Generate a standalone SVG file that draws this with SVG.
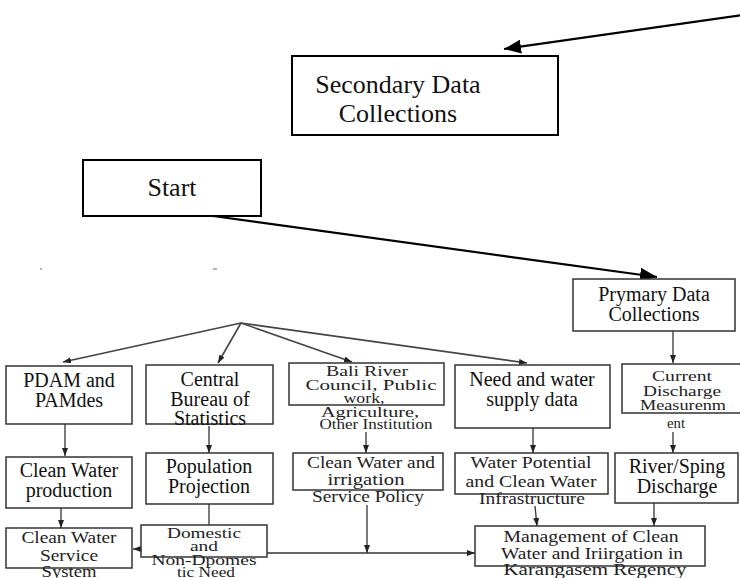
<svg xmlns="http://www.w3.org/2000/svg" width="740" height="578" viewBox="0 0 740 578">
<style>
.box{fill:#fff;stroke:#333;stroke-width:1.5}
.bigbox{fill:#fff;stroke:#000;stroke-width:2}
text{font-family:'Liberation Serif','DejaVu Serif',serif}
.t{fill:#111;text-anchor:middle;font-size:20px}
.tb{fill:#111;text-anchor:middle;font-size:26px}
.w{fill:#222;text-anchor:middle}
.c{stroke:#333;stroke-width:1.3;fill:none}
.cf{stroke:#444;stroke-width:1.6;fill:none}
.cb{stroke:#000;stroke-width:2.2;fill:none}
.mark{stroke:#999;stroke-width:1.5}
</style>
<defs>
<marker id="big" markerUnits="userSpaceOnUse" markerWidth="18" markerHeight="14" refX="17" refY="7" orient="auto">
<path d="M0,0 L17,7 L0,14 z" fill="#000"/>
</marker>
<marker id="sm" markerUnits="userSpaceOnUse" markerWidth="8" markerHeight="6" refX="8" refY="3" orient="auto">
<path d="M0,0 L8,3 L0,6 z" fill="#222"/>
</marker>
</defs>
<line class="mark" x1="40" y1="269" x2="42" y2="269"/>
<line class="mark" x1="213" y1="269" x2="217" y2="269"/>
<g id="connectors">
<line class="cb" x1="742" y1="15" x2="504" y2="49" marker-end="url(#big)"/>
<line class="cb" x1="213" y1="216" x2="657" y2="277" marker-end="url(#big)"/>
<line class="cf" x1="241" y1="323" x2="63" y2="362" marker-end="url(#sm)"/>
<line class="cf" x1="241" y1="323" x2="218" y2="363" marker-end="url(#sm)"/>
<line class="cf" x1="241" y1="323" x2="352" y2="362" marker-end="url(#sm)"/>
<line class="cf" x1="241" y1="323" x2="527" y2="363" marker-end="url(#sm)"/>
<line class="c" x1="673" y1="331" x2="673" y2="363" marker-end="url(#sm)"/>
<line class="c" x1="65" y1="424" x2="65" y2="456" marker-end="url(#sm)"/>
<line class="c" x1="209" y1="426" x2="209" y2="453" marker-end="url(#sm)"/>
<line class="c" x1="366" y1="432" x2="366" y2="453" marker-end="url(#sm)"/>
<line class="c" x1="533" y1="428" x2="533" y2="453" marker-end="url(#sm)"/>
<line class="c" x1="673" y1="432" x2="673" y2="453" marker-end="url(#sm)"/>
<line class="c" x1="61" y1="508" x2="61" y2="528" marker-end="url(#sm)"/>
<line class="c" x1="209" y1="504" x2="209" y2="525"/>
<line class="c" x1="141" y1="549" x2="133" y2="549" marker-end="url(#sm)"/>
<line class="c" x1="367" y1="505" x2="367" y2="553" marker-end="url(#sm)"/>
<line class="c" x1="267" y1="553" x2="475" y2="553" marker-end="url(#sm)"/>
<line class="c" x1="535" y1="506" x2="537" y2="526" marker-end="url(#sm)"/>
<line class="c" x1="654" y1="503" x2="654" y2="526" marker-end="url(#sm)"/>
</g>
<g id="secondary">
<rect class="bigbox" x="292" y="56" width="266" height="79"/>
<text class="tb" x="398" y="93">Secondary Data</text>
<text class="tb" x="398" y="122">Collections</text>
</g>
<g id="start">
<rect class="bigbox" x="83" y="160" width="178" height="56"/>
<text class="tb" x="172" y="196">Start</text>
</g>
<g id="primary">
<rect class="box" x="573" y="279" width="162" height="52"/>
<text class="t" x="654" y="301" font-size="21">Prymary Data</text>
<text class="t" x="654" y="321" font-size="21">Collections</text>
</g>
<g id="pdam">
<rect class="box" x="6" y="366" width="126" height="58"/>
<text class="t" x="69" y="387">PDAM and</text>
<text class="t" x="69" y="407">PAMdes</text>
</g>
<g id="bps">
<rect class="box" x="146" y="365" width="127" height="59"/>
<text class="t" x="210" y="386">Central</text>
<text class="t" x="210" y="406">Bureau of</text>
<text class="t" x="210" y="425">Statistics</text>
</g>
<g id="bali">
<rect class="box" x="289" y="363" width="155" height="42"/>
<text class="w" x="367" y="376" font-size="14" textLength="82" lengthAdjust="spacingAndGlyphs">Bali River</text>
<text class="w" x="371" y="390" font-size="14" textLength="131" lengthAdjust="spacingAndGlyphs">Council, Public</text>
<text class="w" x="364" y="403" font-size="14" textLength="41" lengthAdjust="spacingAndGlyphs">work,</text>
<text class="w" x="370" y="417" font-size="14" textLength="98" lengthAdjust="spacingAndGlyphs">Agriculture,</text>
<text class="w" x="376" y="429" font-size="14" textLength="113" lengthAdjust="spacingAndGlyphs">Other Institution</text>
</g>
<g id="need">
<rect class="box" x="455" y="365" width="155" height="63"/>
<text class="t" x="532" y="386">Need and water</text>
<text class="t" x="532" y="406">supply data</text>
</g>
<g id="current">
<rect class="box" x="622" y="364" width="120" height="49"/>
<text class="w" x="682" y="381" font-size="15" textLength="60" lengthAdjust="spacingAndGlyphs">Current</text>
<text class="w" x="682" y="396" font-size="15" textLength="78" lengthAdjust="spacingAndGlyphs">Discharge</text>
<text class="w" x="683" y="410" font-size="15" textLength="86" lengthAdjust="spacingAndGlyphs">Measurenm</text>
<text class="w" x="676" y="428" font-size="15" textLength="18" lengthAdjust="spacingAndGlyphs">ent</text>
</g>
<g id="production">
<rect class="box" x="6" y="457" width="126" height="51"/>
<text class="t" x="69" y="477">Clean Water</text>
<text class="t" x="69" y="497">production</text>
</g>
<g id="population">
<rect class="box" x="146" y="453" width="127" height="51"/>
<text class="t" x="209" y="473">Population</text>
<text class="t" x="209" y="493">Projection</text>
</g>
<g id="policy">
<rect class="box" x="293" y="453" width="150" height="37"/>
<text class="w" x="371" y="468" font-size="16" textLength="128" lengthAdjust="spacingAndGlyphs">Clean Water and</text>
<text class="w" x="366" y="485" font-size="16" textLength="77" lengthAdjust="spacingAndGlyphs">irrigation</text>
<text class="w" x="368" y="502" font-size="16" textLength="112" lengthAdjust="spacingAndGlyphs">Service Policy</text>
</g>
<g id="potential">
<rect class="box" x="455" y="453" width="153" height="41"/>
<text class="w" x="531" y="468" font-size="16" textLength="121" lengthAdjust="spacingAndGlyphs">Water Potential</text>
<text class="w" x="531" y="487" font-size="16" textLength="131" lengthAdjust="spacingAndGlyphs">and Clean Water</text>
<text class="w" x="532" y="504" font-size="16" textLength="106" lengthAdjust="spacingAndGlyphs">Infrastructure</text>
</g>
<g id="river">
<rect class="box" x="615" y="453" width="123" height="50"/>
<text class="t" x="677" y="473">River/Sping</text>
<text class="t" x="677" y="493">Discharge</text>
</g>
<g id="service">
<rect class="box" x="6" y="528" width="126" height="40"/>
<text class="w" x="69" y="543" font-size="16" textLength="95" lengthAdjust="spacingAndGlyphs">Clean Water</text>
<text class="w" x="69" y="561" font-size="16" textLength="58" lengthAdjust="spacingAndGlyphs">Service</text>
<text class="w" x="69" y="577" font-size="16" textLength="55" lengthAdjust="spacingAndGlyphs">System</text>
</g>
<g id="domestic">
<rect class="box" x="141" y="525" width="126" height="32"/>
<text class="w" x="204" y="538" font-size="14" textLength="74" lengthAdjust="spacingAndGlyphs">Domestic</text>
<text class="w" x="204" y="551" font-size="14" textLength="28" lengthAdjust="spacingAndGlyphs">and</text>
<text class="w" x="204" y="565" font-size="14" textLength="105" lengthAdjust="spacingAndGlyphs">Non-Dpomes</text>
<text class="w" x="206" y="577" font-size="14" textLength="58" lengthAdjust="spacingAndGlyphs">tic Need</text>
</g>
<g id="management">
<rect class="box" x="475" y="526" width="230" height="40"/>
<text class="w" x="591" y="542" font-size="16" textLength="175" lengthAdjust="spacingAndGlyphs">Management of Clean</text>
<text class="w" x="592" y="559" font-size="16" textLength="182" lengthAdjust="spacingAndGlyphs">Water and Iriirgation in</text>
<text class="w" x="595" y="575" font-size="16" textLength="183" lengthAdjust="spacingAndGlyphs">Karangasem Regency</text>
</g>
</svg>
